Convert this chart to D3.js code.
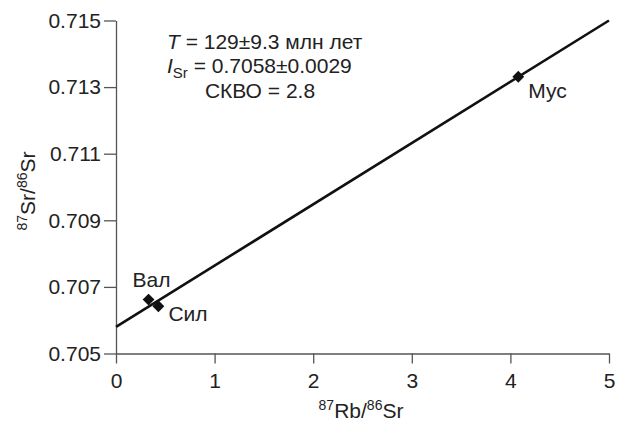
<!DOCTYPE html>
<html><head><meta charset="utf-8">
<script src="https://cdn.jsdelivr.net/npm/d3@7"></script>
<style>
body{margin:0;background:#fff;}
text{font-family:"Liberation Sans",Arial,sans-serif;fill:#222;}
</style></head>
<body><svg id="c" width="617" height="421"></svg>
<script>
const labels = ["Вал","Сил","Мус"];
const xVals = [0.33, 0.43, 4.08];
const yVals = [0.70662, 0.70642, 0.71331];
const lineX = [0, 5];
const lineY = [0.7058, 0.7150];
const xTicks = [0,1,2,3,4,5];
const yTicks = [0.705,0.707,0.709,0.711,0.713,0.715];

const svg = d3.select("#c");
const x = d3.scaleLinear().domain([0,5]).range([116,609]);
const y = d3.scaleLinear().domain([0.705,0.715]).range([353.5,20.5]);
const fs = 21;

const gx = svg.append("g").attr("transform","translate(0,353.5)")
  .call(d3.axisBottom(x).tickValues(xTicks).tickFormat(d3.format("d")).tickSize(10).tickSizeOuter(0));
const gy = svg.append("g").attr("transform","translate(116,0)")
  .call(d3.axisLeft(y).tickValues(yTicks).tickFormat(d3.format(".3f")).tickSize(12).tickPadding(3).tickSizeOuter(0));
[gx,gy].forEach(g=>{
  g.selectAll("path,line").attr("stroke","#555").attr("stroke-width",1.3);
  g.selectAll("text").attr("font-size",fs).attr("font-family","Liberation Sans, Arial, sans-serif").attr("fill","#222");
});
gx.selectAll("text").attr("y",20).attr("dy","0.71em");

// isochron line
svg.append("line")
  .attr("x1",x(lineX[0])).attr("y1",y(lineY[0]))
  .attr("x2",x(lineX[1])).attr("y2",y(lineY[1]))
  .attr("stroke","#111").attr("stroke-width",2.6);

// points
const sym = d3.symbol().type(d3.symbolSquare).size(70);
svg.selectAll("path.pt").data(xVals).join("path").attr("class","pt")
  .attr("d",sym)
  .attr("transform",(d,i)=>`translate(${x(d)},${y(yVals[i])}) rotate(45)`)
  .attr("fill","#111");

const lblOff = [[-16,-13],[10,15],[10,21]];
svg.selectAll("text.lbl").data(labels).join("text").attr("class","lbl")
  .attr("x",(d,i)=>x(xVals[i])+lblOff[i][0])
  .attr("y",(d,i)=>y(yVals[i])+lblOff[i][1])
  .attr("font-size",fs).text(d=>d);

// annotation
const ann = svg.append("g").attr("font-size",fs);
const t1 = ann.append("text").attr("x",167).attr("y",49);
t1.append("tspan").attr("font-style","italic").text("T");
t1.append("tspan").text(" = 129±9.3 млн лет");
const t2 = ann.append("text").attr("x",167).attr("y",73);
t2.append("tspan").attr("font-style","italic").text("I");
t2.append("tspan").attr("font-size",15).attr("dy",5).text("Sr");
t2.append("tspan").attr("dy",-5).text(" = 0.7058±0.0029");
ann.append("text").attr("x",260).attr("y",98).attr("text-anchor","middle").text("СКВО = 2.8");

// axis titles
const xl = svg.append("text").attr("x",361).attr("y",418).attr("text-anchor","middle").attr("font-size",fs);
xl.append("tspan").attr("font-size",14).attr("dy",-8).text("87");
xl.append("tspan").attr("dy",8).text("Rb/");
xl.append("tspan").attr("font-size",14).attr("dy",-8).text("86");
xl.append("tspan").attr("dy",8).text("Sr");

const yl = svg.append("text").attr("transform","translate(35,191) rotate(-90)").attr("text-anchor","middle").attr("font-size",fs);
yl.append("tspan").attr("font-size",14).attr("dy",-8).text("87");
yl.append("tspan").attr("dy",8).text("Sr/");
yl.append("tspan").attr("font-size",14).attr("dy",-8).text("86");
yl.append("tspan").attr("dy",8).text("Sr");
</script></body></html>
